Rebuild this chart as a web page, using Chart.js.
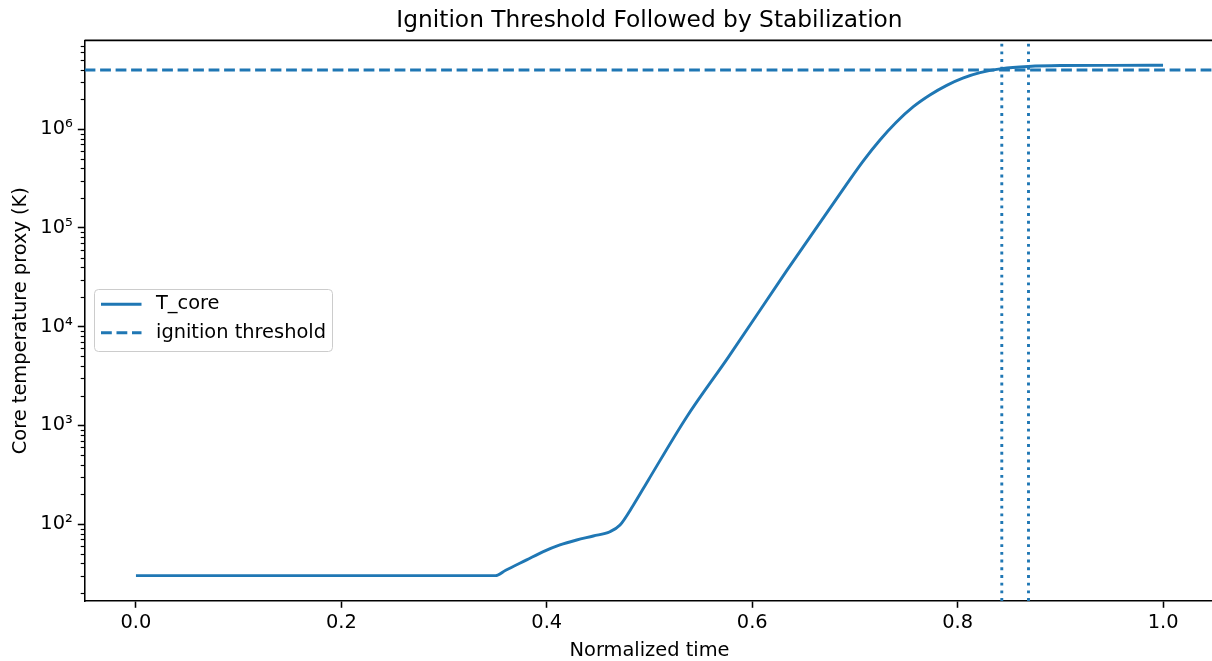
<!DOCTYPE html>
<html>
<head>
<meta charset="utf-8">
<script src="https://cdn.jsdelivr.net/npm/chart.js@4.4.1/dist/chart.umd.min.js"></script>
<style>
  html, body { margin: 0; padding: 0; overflow: hidden; background: #fff; }
  #wrap { width: 1216px; height: 661px; }
</style>
</head>
<body>
<div id="wrap"><canvas id="chart" width="1216" height="661"></canvas></div>
<script>
// data
const timeValues = [0.0, 0.35, 0.36, 0.3804, 0.3966, 0.4128, 0.4291, 0.4453, 0.4615, 0.4713, 0.4842, 0.4988,
  0.5362, 0.5768, 0.6336, 0.692, 0.708, 0.7244, 0.74, 0.7569, 0.773, 0.7894, 0.805, 0.8218, 0.843, 0.869, 0.9, 0.95, 1.0];
const coreTemps = [30, 30, 34, 43.3, 52.5, 61.4, 68.9, 75.6, 83.6, 97.7, 155, 278,
  1216, 4910, 36900, 278000, 476000, 778000, 1170000, 1690000, 2220000, 2780000, 3290000, 3740000,
  4110000, 4320000, 4410000, 4430000, 4440000];
const thresholdValue = 3.97e6;
const markerTimes = [0.843, 0.869];
const xTicks = [0.0, 0.2, 0.4, 0.6, 0.8, 1.0];
const yTicks = [1e2, 1e3, 1e4, 1e5, 1e6];

const X_MIN = -0.05, X_MAX = 1.05;
const Y_MIN = 16.6, Y_MAX = 7.94e6;
const BLUE = '#1f77b4';
const FONT = 'DejaVu Sans';

const sup = { '0': '⁰', '1': '¹', '2': '²', '3': '³', '4': '⁴', '5': '⁵', '6': '⁶', '7': '⁷', '8': '⁸', '9': '⁹' };
function powLabel(v) {
  const e = Math.round(Math.log10(v));
  return '10' + String(e).split('').map(c => sup[c]).join('');
}

// minor log ticks, top/right spines and the legend box
const extras = {
  id: 'extras',
  afterDatasetsDraw(chart) {
    const { ctx, chartArea: a, scales } = chart;
    const y = scales.y;
    ctx.save();
    // minor ticks
    ctx.strokeStyle = '#000';
    ctx.lineWidth = 1.16;
    for (let n = 1; n <= 6; n++) {
      for (let k = 2; k <= 9; k++) {
        const v = k * Math.pow(10, n);
        if (v < Y_MIN || v > Y_MAX) continue;
        const py = Math.round(y.getPixelForValue(v)) + 0.5;
        ctx.beginPath();
        ctx.moveTo(a.left - 3.9, py);
        ctx.lineTo(a.left, py);
        ctx.stroke();
      }
    }
    // top and right spines
    ctx.lineWidth = 1.55;
    ctx.beginPath();
    ctx.moveTo(a.left, a.top);
    ctx.lineTo(a.right, a.top);
    ctx.lineTo(a.right, a.bottom);
    ctx.stroke();

    // legend
    const bx = 94.5, by = 289.5, bw = 238, bh = 62;
    ctx.fillStyle = 'rgba(255,255,255,0.8)';
    ctx.strokeStyle = '#cccccc';
    ctx.lineWidth = 1;
    ctx.beginPath();
    ctx.roundRect(bx, by, bw, bh, 4);
    ctx.fill();
    ctx.stroke();
    const rows = chart.data.datasets.filter(d => d.inLegend);
    rows.forEach((d, i) => {
      const ly = 304.3 + i * 28.4;
      ctx.strokeStyle = d.borderColor;
      ctx.lineWidth = d.borderWidth;
      ctx.setLineDash(d.borderDash || []);
      ctx.beginPath();
      ctx.moveTo(101, ly);
      ctx.lineTo(141.5, ly);
      ctx.stroke();
      ctx.setLineDash([]);
      ctx.fillStyle = '#000';
      ctx.font = '19.4px "' + FONT + '"';
      ctx.textBaseline = 'middle';
      ctx.textAlign = 'left';
      ctx.fillText(d.label, 156, ly);
    });
    ctx.restore();
  }
};

const ctx = document.getElementById('chart').getContext('2d');

new Chart(ctx, {
  type: 'line',
  data: {
    datasets: [
      {
        label: 'T_core',
        inLegend: true,
        data: timeValues.map((t, i) => ({ x: t, y: coreTemps[i] })),
        borderColor: BLUE,
        borderWidth: 2.9,
        pointRadius: 0,
        cubicInterpolationMode: 'monotone',
        fill: false
      },
      {
        label: 'ignition threshold',
        inLegend: true,
        data: [{ x: X_MIN, y: thresholdValue }, { x: X_MAX, y: thresholdValue }],
        borderColor: BLUE,
        borderWidth: 2.9,
        borderDash: [10.8, 4.7],
        pointRadius: 0
      },
      ...markerTimes.map(t => ({
        label: 'marker ' + t,
        inLegend: false,
        data: [{ x: t, y: Y_MIN }, { x: t, y: Y_MAX }],
        borderColor: BLUE,
        borderWidth: 2.9,
        borderDash: [2.9, 4.8],
        pointRadius: 0
      }))
    ]
  },
  options: {
    responsive: false,
    animation: false,
    devicePixelRatio: 1,
    layout: { padding: { left: 0, right: 1.6, top: 0, bottom: 0 } },
    plugins: {
      legend: { display: false },
      tooltip: { enabled: false },
      title: {
        display: true,
        fullSize: false,
        text: 'Ignition Threshold Followed by Stabilization',
        color: '#000',
        font: { family: FONT, size: 23.3, weight: 'normal' },
        padding: { top: 6.5, bottom: 5.9 }
      }
    },
    scales: {
      x: {
        type: 'linear',
        min: X_MIN,
        max: X_MAX,
        afterBuildTicks: s => { s.ticks = xTicks.map(v => ({ value: v })); },
        afterFit: s => { s.height = 60; },
        ticks: {
          color: '#000',
          font: { family: FONT, size: 19.4 },
          padding: 4,
          autoSkip: false,
          maxRotation: 0,
          callback: v => v.toFixed(1)
        },
        grid: { drawOnChartArea: false, drawTicks: true, tickLength: 6.8, color: '#000', tickWidth: 1.55 },
        border: { display: true, color: '#000', width: 1.55 },
        title: {
          display: true,
          text: 'Normalized time',
          color: '#000',
          font: { family: FONT, size: 19.4 },
          padding: { top: 0, bottom: -2 }
        }
      },
      y: {
        type: 'logarithmic',
        min: Y_MIN,
        max: Y_MAX,
        afterBuildTicks: s => { s.ticks = yTicks.map(v => ({ value: v, major: true })); },
        afterFit: s => { s.width = 84.6; },
        ticks: {
          color: '#000',
          font: { family: FONT, size: 19.4 },
          padding: 5,
          autoSkip: false,
          callback: v => powLabel(v)
        },
        grid: { drawOnChartArea: false, drawTicks: true, tickLength: 6.8, color: '#000', tickWidth: 1.55 },
        border: { display: true, color: '#000', width: 1.55 },
        title: {
          display: true,
          text: 'Core temperature proxy (K)',
          color: '#000',
          font: { family: FONT, size: 19.4 },
          padding: { top: 9, bottom: 0 }
        }
      }
    }
  },
  plugins: [extras]
});
</script>
</body>
</html>
